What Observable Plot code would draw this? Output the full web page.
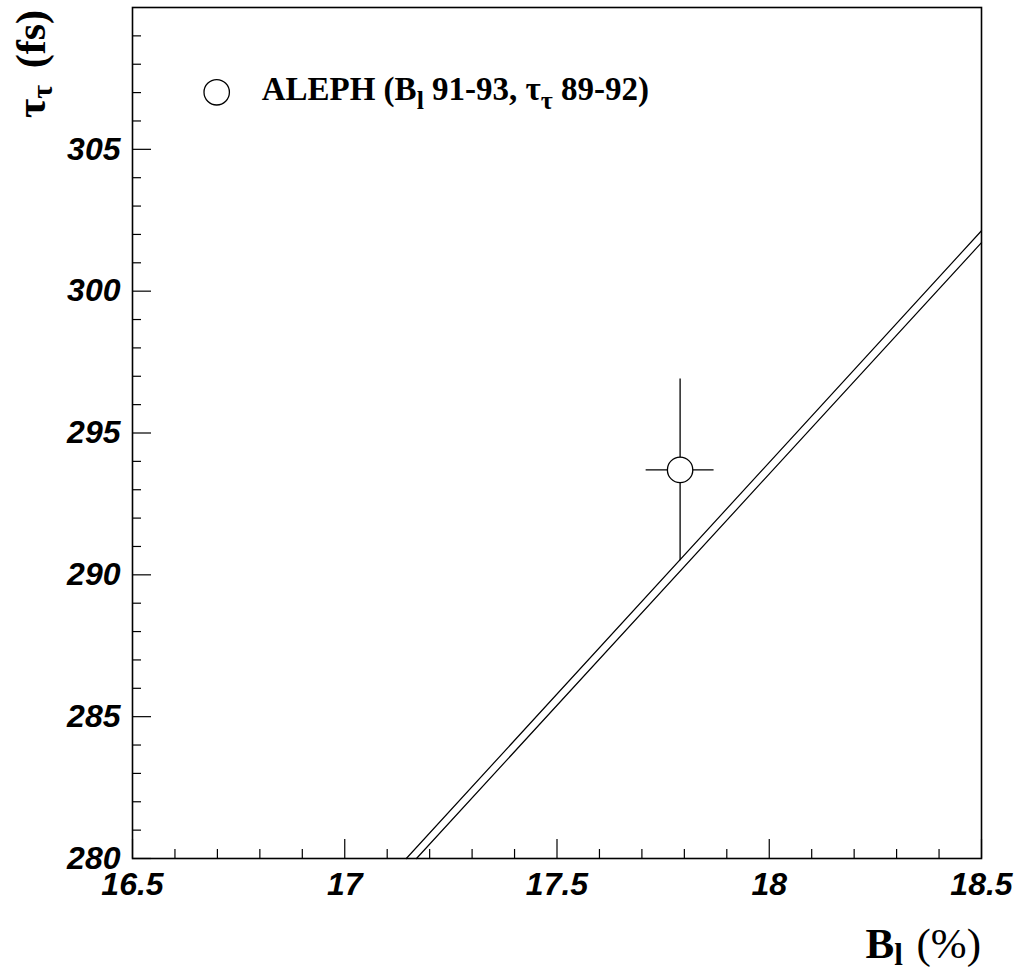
<!DOCTYPE html>
<html>
<head>
<meta charset="utf-8">
<script src="https://cdn.jsdelivr.net/npm/d3@7"></script>
<script src="https://cdn.jsdelivr.net/npm/@observablehq/plot@0.6"></script>
<style>
  html, body { margin: 0; padding: 0; background: #fff; }
  svg { display: block; }
  svg g[aria-label="x-axis tick label"] text,
  svg g[aria-label="y-axis tick label"] text {
    font-style: italic !important;
    font-weight: bold !important;
    font-family: "Liberation Sans", Arial, sans-serif !important;
  }
</style>
</head>
<body>
<div id="chart"></div>
<script>
// ---- data ----
const xMajorTicks = [16.5, 17, 17.5, 18, 18.5];
const xMinorTicks = [16.6, 16.7, 16.8, 16.9, 17.1, 17.2, 17.3, 17.4, 17.6, 17.7, 17.8, 17.9, 18.1, 18.2, 18.3, 18.4];
const yMajorTicks = [280, 285, 290, 295, 300, 305];
const yMinorTicks = [281, 282, 283, 284, 286, 287, 288, 289, 291, 292, 293, 294, 296, 297, 298, 299, 301, 302, 303, 304, 306, 307, 308, 309];

// ALEPH measurement
const alephB = [17.79];
const alephTau = [293.7];
const alephBErr = [0.08];
const alephTauErr = [3.2];

// band edges (lepton universality prediction)
const edge1B = [17.145, 18.5];
const edge1Tau = [280, 302.13];
const edge2B = [17.169, 18.5];
const edge2Tau = [280, 301.71];

// ---- tables ----
const points = alephB.map((b, i) => ({b, tau: alephTau[i], db: alephBErr[i], dt: alephTauErr[i]}));
const edge1 = edge1B.map((b, i) => ({b, tau: edge1Tau[i]}));
const edge2 = edge2B.map((b, i) => ({b, tau: edge2Tau[i]}));

const W = 1023, H = 971;
const mL = 132, mR = 42, mT = 7, mB = 113;
const innerW = W - mL - mR, innerH = H - mT - mB;

const tickFont = {fontSize: 32, fontWeight: "bold", fontStyle: "italic", fontFamily: "Liberation Sans, Arial, sans-serif"};

const chart = Plot.plot({
  width: W, height: H,
  marginLeft: mL, marginRight: mR, marginTop: mT, marginBottom: mB,
  x: {domain: [16.5, 18.5]},
  y: {domain: [280, 310]},
  marks: [
    Plot.line(edge1, {x: "b", y: "tau", stroke: "black", strokeWidth: 1.2}),
    Plot.line(edge2, {x: "b", y: "tau", stroke: "black", strokeWidth: 1.2}),
    Plot.ruleY(points, {y: "tau", x1: d => d.b - d.db, x2: d => d.b + d.db, stroke: "black", strokeWidth: 1.3}),
    Plot.ruleX(points, {x: "b", y1: d => d.tau - d.dt, y2: d => d.tau + d.dt, stroke: "black", strokeWidth: 1.3}),
    Plot.dot(points, {x: "b", y: "tau", r: 12.7, fill: "white", stroke: "black", strokeWidth: 1.3}),
    // ticks inside frame
    Plot.ruleX(xMajorTicks, {x: d => d, insetTop: innerH - 19, stroke: "black", strokeWidth: 1.2}),
    Plot.ruleX(xMinorTicks, {x: d => d, insetTop: innerH - 9, stroke: "black", strokeWidth: 1.2}),
    Plot.ruleY(yMajorTicks, {y: d => d, insetRight: innerW - 19, stroke: "black", strokeWidth: 1.2}),
    Plot.ruleY(yMinorTicks, {y: d => d, insetRight: innerW - 9, stroke: "black", strokeWidth: 1.2}),
    Plot.axisX(xMajorTicks, {tickSize: 0, tickPadding: 14, label: null, tickFormat: d => String(d), ...tickFont, fill: "black"}),
    Plot.axisY(yMajorTicks, {tickSize: 0, tickPadding: 12, label: null, tickFormat: d => String(d), ...tickFont, fill: "black"}),
    Plot.frame({stroke: "black", strokeWidth: 1.6})
  ]
});

document.getElementById("chart").appendChild(chart);

const svg = d3.select(chart);
svg.selectAll('g[aria-label="x-axis tick label"] text, g[aria-label="y-axis tick label"] text')
  .style("font-style", "italic").style("font-weight", "bold");

const serif = "Liberation Serif, Times New Roman, serif";

// Legend
svg.append("circle")
  .attr("cx", 216.7).attr("cy", 92.3).attr("r", 12.7)
  .attr("fill", "white").attr("stroke", "black").attr("stroke-width", 1.3);
const leg = svg.append("text")
  .attr("x", 261.7).attr("y", 100).attr("text-anchor", "start")
  .attr("font-family", serif).attr("font-weight", "bold").attr("font-size", 33).attr("fill", "black");
leg.append("tspan").text("ALEPH (B");
leg.append("tspan").attr("font-size", 26).attr("dy", 9).text("l");
leg.append("tspan").attr("dy", -9).text(" 91-93, τ");
leg.append("tspan").attr("font-size", 26).attr("dy", 9).text("τ");
leg.append("tspan").attr("dy", -9).text(" 89-92)");

// X axis title
const xt = svg.append("text")
  .attr("x", 981).attr("y", 958).attr("text-anchor", "end")
  .attr("font-family", serif).attr("font-size", 43).attr("fill", "black");
xt.append("tspan").attr("font-weight", "bold").text("B");
xt.append("tspan").attr("font-weight", "bold").attr("font-size", 31).attr("dy", 7).text("l");
xt.append("tspan").attr("dy", -7).attr("dx", 3).text(" (%)");

// Y axis title
const yt = svg.append("text")
  .attr("transform", "translate(45,10) rotate(-90)").attr("text-anchor", "end")
  .attr("font-family", serif).attr("font-weight", "bold").attr("font-size", 42).attr("fill", "black");
yt.append("tspan").text("τ");
yt.append("tspan").attr("font-size", 30).attr("dy", 7).text("τ");
yt.append("tspan").attr("dy", -7).attr("dx", 6).text(" (fs)");
</script>
</body>
</html>
